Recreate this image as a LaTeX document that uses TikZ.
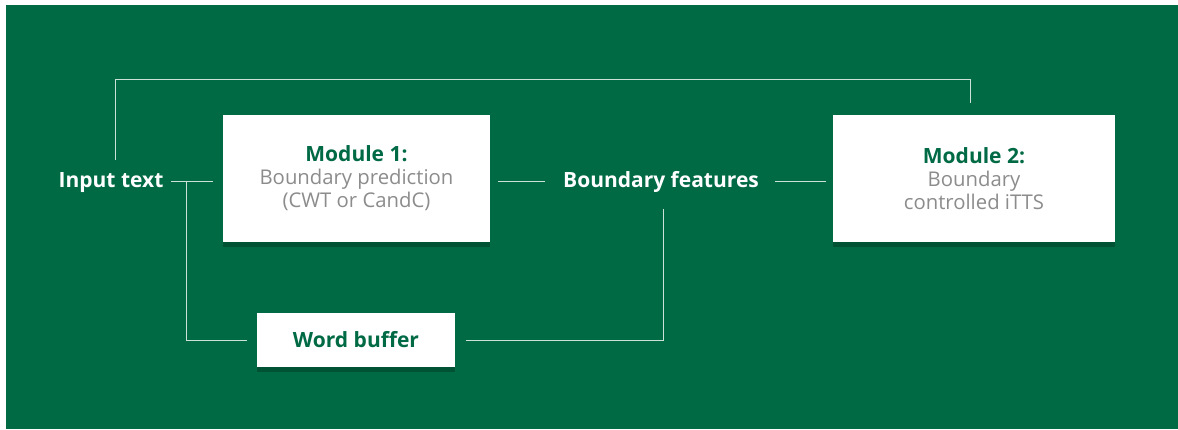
\documentclass[tikz,border=0pt]{standalone}
\usepackage{fontspec}
\setmainfont{Open Sans}
\usetikzlibrary{shadows}
\definecolor{bggreen}{HTML}{006A45}
\definecolor{txtgray}{HTML}{8C8C8C}
\colorlet{wire}{white!80!bggreen}
\tikzset{
  modbox/.style={draw=none,fill=white,minimum height=127pt,align=center,
    font=\fontsize{20.3}{23}\selectfont\color{txtgray},
    drop shadow={shadow xshift=0pt,shadow yshift=-5pt,fill=black,opacity=0.22}},
  label/.style={font=\fontsize{21}{23}\selectfont\bfseries,text=white,anchor=base},
  wirestyle/.style={draw=wire,line width=1pt}
}
\newcommand{\modtitle}[1]{{\fontsize{21}{23}\selectfont\bfseries\color{bggreen}#1}}
\begin{document}
\begin{tikzpicture}[x=1pt,y=-1pt]
  \useasboundingbox (0,0) rectangle (1178,429);
  % background
  \fill[white] (0,0) rectangle (1178,429);
  \fill[bggreen] (6,5) rectangle (1178,429);
  % text labels
  \node[label] (input) at (111,187) {Input text};
  \node[label] (feat) at (661,187) {Boundary features};
  % boxes
  \node[modbox,minimum width=267pt] (mod1) at (356.5,178.5)
      {\modtitle{Module 1:}\\Boundary prediction\\(CWT or CandC)};
  \node[modbox,minimum width=282pt] (mod2) at (974,178.5)
      {\modtitle{Module 2:}\\Boundary\\controlled iTTS};
  \node[modbox,minimum width=198pt,minimum height=54pt] (buffer) at (356,340)
      {\modtitle{Word buffer}};
  % corner points of the wires
  \coordinate (topa) at (115,160);
  \coordinate (topb) at (970,103);
  \coordinate (spl) at (186,181);
  \coordinate (featdown) at (663,209);
  % wires
  \draw[wirestyle] (topa) -- (topa |- 0,79) -- (topb |- 0,79) -- (topb);
  \draw[wirestyle] ([xshift=4pt]input.east |- spl) -- ([xshift=-10pt]mod1.west |- spl);
  \draw[wirestyle] ([xshift=8pt]mod1.east |- spl) -- ([xshift=-15pt]feat.west |- spl);
  \draw[wirestyle] ([xshift=13pt]feat.east |- spl) -- ([xshift=-7pt]mod2.west |- spl);
  \draw[wirestyle] (spl) -- (spl |- buffer.west) -- ([xshift=-10pt]buffer.west);
  \draw[wirestyle] (featdown) -- (featdown |- buffer.east) -- ([xshift=11pt]buffer.east);
\end{tikzpicture}
\end{document}
